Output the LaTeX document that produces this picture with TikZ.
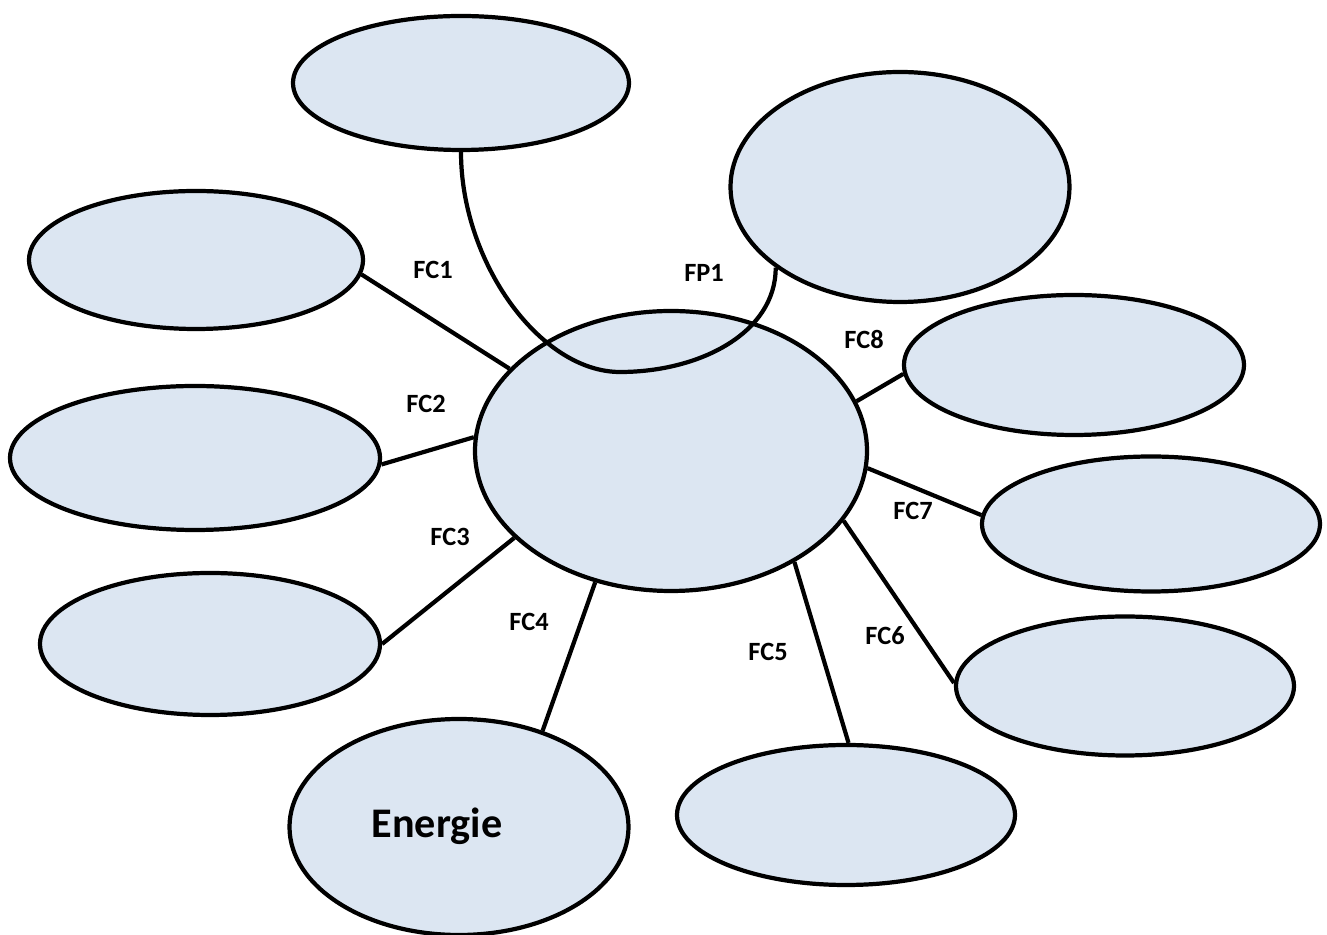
\documentclass[tikz,border=0pt]{standalone}
\usepackage{fontspec}
\setmainfont{Carlito}
\usepackage{tikz}
\usetikzlibrary{shapes.geometric}

\definecolor{bubble}{HTML}{DCE6F2}

\tikzset{
  blob/.style={ellipse, draw, line width=1.2pt, fill=bubble, inner sep=0pt},
  lbl/.style={font=\fontsize{7.5}{8}\selectfont\bfseries},
  link/.style={line width=1.2pt}
}

\begin{document}
\begin{tikzpicture}
\useasboundingbox (0,0) rectangle (13.27,9.35);

% centre
\node[blob, minimum width=3.92cm, minimum height=2.8cm] (centre) at (6.71,4.84) {};

% outer bubbles
\node[blob, minimum width=3.36cm, minimum height=1.34cm] (top) at (4.61,8.52) {};
\node[blob, minimum width=3.39cm, minimum height=2.30cm] (fp1) at (9.00,7.48) {};
\node[blob, minimum width=3.34cm, minimum height=1.38cm] (left1) at (1.96,6.75) {};
\node[blob, minimum width=3.70cm, minimum height=1.44cm] (left2) at (1.95,4.77) {};
\node[blob, minimum width=3.40cm, minimum height=1.42cm] (left3) at (2.10,2.91) {};
\node[blob, minimum width=3.39cm, minimum height=2.16cm] (energy) at (4.59,1.08) {};
\node[blob, minimum width=3.38cm, minimum height=1.40cm] (right5) at (8.46,1.20) {};
\node[blob, minimum width=3.38cm, minimum height=1.39cm] (right6) at (11.25,2.49) {};
\node[blob, minimum width=3.38cm, minimum height=1.35cm] (right7) at (11.51,4.11) {};
\node[blob, minimum width=3.40cm, minimum height=1.40cm] (right8) at (10.74,5.70) {};

\node[font=\fontsize{12}{14}\selectfont\bfseries] (energytxt) at (4.37,1.09) {Energie};

% links
\draw[link] (left1.355) -- (centre.153.7);
\draw[link] (left2.358.8) -- (centre.176.2);
\draw[link] (left3.0.7) -- (centre.209.3);
\draw[link] (energy.49.6) -- (centre.240.2);
\draw[link] (right5.88.3) -- (centre.318.2);
\draw[link] (right6.179) -- (centre.338.8);
\draw[link] (right7.177) -- (centre.355);
\draw[link] (right8.183.7) -- (centre.15.9);

% main function
\coordinate (dip) at (6.20,5.63);
\draw[link] (top.south) .. controls +(0,-1.1) and +(-0.8,0) .. (dip)
  .. controls +(0.8,0) and +(0,-0.65) .. (fp1.213.5);

% labels
\node[lbl] (fc1) at (4.33,6.65) {FC1};
\node[lbl] (fp1txt) at (7.04,6.62) {FP1};
\node[lbl] (fc8) at (8.64,5.95) {FC8};
\node[lbl] (fc2) at (4.26,5.31) {FC2};
\node[lbl] (fc3) at (4.50,3.98) {FC3};
\node[lbl] (fc7) at (9.13,4.24) {FC7};
\node[lbl] (fc4) at (5.29,3.13) {FC4};
\node[lbl] (fc5) at (7.68,2.83) {FC5};
\node[lbl] (fc6) at (8.85,2.99) {FC6};

\end{tikzpicture}
\end{document}
